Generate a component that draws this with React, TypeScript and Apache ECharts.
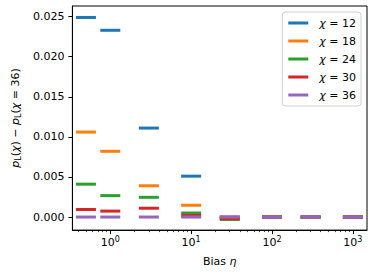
import React, { useEffect, useRef } from 'react';
import * as echarts from 'echarts';

const bias = [0.5, 1, 3, 10, 30, 100, 300, 1000];
const chiNames = ['12', '18', '24', '30', '36'];
const chi12 = [0.0249, 0.0233, 0.0111, 0.0051, 0, 0, 0, 0];
const chi18 = [0.0106, 0.0082, 0.0039, 0.00147, 0, 0, 0, 0];
const chi24 = [0.0041, 0.00267, 0.00246, 0.0005, -0.0003, 0, 0, 0];
const chi30 = [0.00094, 0.00074, 0.0011, 0.0002, -0.0002, 0, 0, 0];
const chi36 = [0, 0, 0, 0, 0, 0, 0, 0];
const seriesValues = [chi12, chi18, chi24, chi30, chi36];
const colors = ['#1f77b4', '#ff7f0e', '#2ca02c', '#d62728', '#9467bd'];

const xMajorTicks = [1, 10, 100, 1000];
const xMinorTicks = [
  0.4, 0.5, 0.6, 0.7, 0.8, 0.9,
  2, 3, 4, 5, 6, 7, 8, 9,
  20, 30, 40, 50, 60, 70, 80, 90,
  200, 300, 400, 500, 600, 700, 800, 900,
];
const yTicks = [0, 0.005, 0.01, 0.015, 0.02, 0.025];

const FONT = 'DejaVu Sans';

export default function App() {
  const ref = useRef<HTMLDivElement>(null);
  useEffect(() => {
    if (!ref.current) return;
    const chart = echarts.init(ref.current, undefined, { renderer: 'svg' });
    const series: any[] = seriesValues.map((vals, k) => ({
      type: 'scatter',
      name: chiNames[k],
      xAxisIndex: 0,
      yAxisIndex: 0,
      data: bias.map((b, i) => [b, vals[i]]),
      symbol: 'rect',
      symbolSize: [20, 3],
      itemStyle: { color: colors[k], opacity: 1 },
      emphasis: { disabled: true },
      silent: true,
      z: 2 + k,
    }));
    chart.setOption({
      animation: false,
      grid: {
        left: 62, right: 7, top: 6, bottom: 40,
        show: true, borderColor: '#000', borderWidth: 1,
        backgroundColor: 'transparent',
      },
      legend: {
        data: chiNames,
        orient: 'vertical',
        right: 13,
        top: 12,
        padding: [4, 5, 4, 6],
        itemGap: 4,
        itemWidth: 20,
        itemHeight: 3,
        icon: 'rect',
        borderColor: '#d0d0d0',
        borderWidth: 1,
        borderRadius: 3,
        backgroundColor: 'rgba(255,255,255,0.8)',
        selectedMode: false,
        formatter: (n: string) => `{sp|}{i|χ} = ${n}`,
        textStyle: {
          fontFamily: FONT, fontSize: 11, color: '#000', lineHeight: 14,
          rich: {
            sp: { width: 6, lineHeight: 14 },
            i: { fontStyle: 'italic', fontFamily: FONT, fontSize: 11, lineHeight: 14 },
          },
        },
      },
      xAxis: [
        {
          type: 'log',
          logBase: 10,
          min: 0.34,
          max: 1494,
          axisLine: { show: true, onZero: false, lineStyle: { color: '#000', width: 1 } },
          axisTick: { show: true, customValues: xMajorTicks, length: 4, lineStyle: { color: '#000', width: 1 } },
          axisLabel: {
            customValues: xMajorTicks,
            margin: 5,
            formatter: (v: number) => `{b|10}{s|${Math.round(Math.log10(v))}}`,
            color: '#000',
            fontFamily: FONT,
            fontSize: 11,
            lineHeight: 14,
            rich: {
              b: { fontFamily: FONT, fontSize: 11, lineHeight: 14, color: '#000' },
              s: { fontFamily: FONT, fontSize: 8, lineHeight: 8, verticalAlign: 'top', color: '#000' },
            },
          },
          splitLine: { show: false },
          minorTick: { show: false },
          name: 'Bias {i|η}',
          nameLocation: 'middle',
          nameGap: 20,
          nameTextStyle: {
            fontFamily: FONT, fontSize: 11, color: '#000', lineHeight: 14,
            rich: { i: { fontStyle: 'italic', fontFamily: FONT, fontSize: 11, lineHeight: 14 } },
          },
        },
        {
          type: 'log',
          logBase: 10,
          min: 0.34,
          max: 1494,
          position: 'bottom',
          axisLine: { show: false, onZero: false },
          axisTick: { show: true, customValues: xMinorTicks, length: 2, lineStyle: { color: '#000', width: 0.7 } },
          axisLabel: { show: false },
          splitLine: { show: false },
        },
      ],
      yAxis: {
        type: 'value',
        min: -0.00163,
        max: 0.02633,
        axisLine: { show: true, onZero: false, lineStyle: { color: '#000', width: 1 } },
        axisTick: { show: true, customValues: yTicks, length: 4, lineStyle: { color: '#000', width: 1 } },
        axisLabel: {
          customValues: yTicks,
          margin: 8,
          formatter: (v: number) => v.toFixed(3),
          color: '#000',
          fontFamily: FONT,
          fontSize: 11,
        },
        splitLine: { show: false },
        name: '{i|p}{s|L}({i|χ}) − {i|p}{s|L}({i|χ} = 36)',
        nameLocation: 'middle',
        nameGap: 41,
        nameRotate: 90,
        nameTextStyle: {
          fontFamily: FONT, fontSize: 11, color: '#000', lineHeight: 14,
          rich: {
            i: { fontStyle: 'italic', fontFamily: FONT, fontSize: 11, lineHeight: 14, color: '#000' },
            s: { fontFamily: FONT, fontSize: 8, lineHeight: 8, verticalAlign: 'bottom', color: '#000' },
          },
        },
      },
      series,
    });
    return () => chart.dispose();
  }, []);
  return (
    <div
      ref={ref}
      style={{ position: 'absolute', left: 0, top: 0, width: 374, height: 273, background: '#fff' }}
    />
  );
}
